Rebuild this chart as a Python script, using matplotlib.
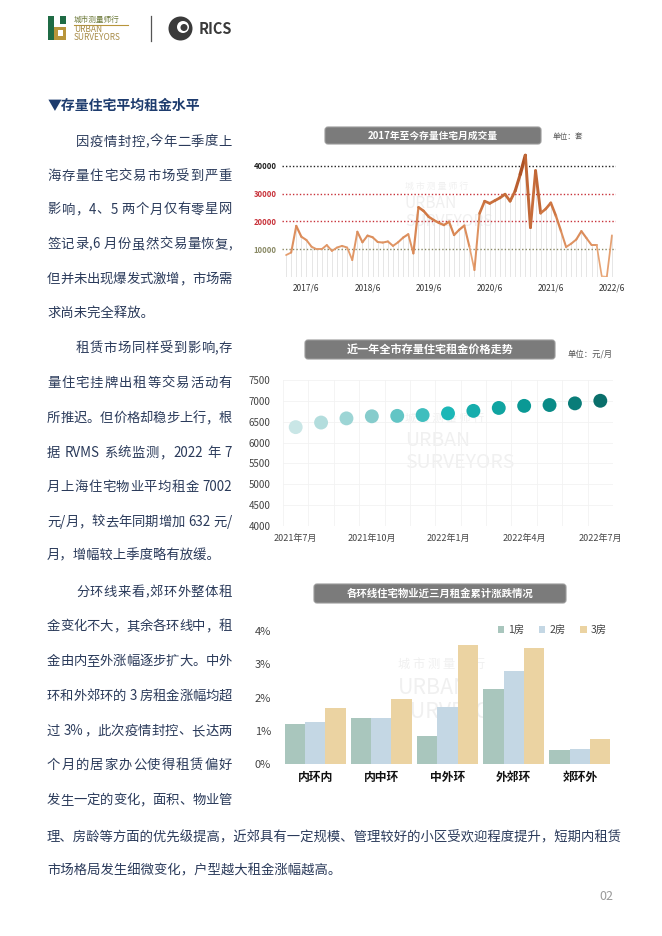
import re
import matplotlib
matplotlib.use('Agg')
import matplotlib.pyplot as plt
from matplotlib.patches import FancyBboxPatch, Rectangle, Circle
from matplotlib.collections import LineCollection
from matplotlib.colors import LinearSegmentedColormap
import numpy as np

plt.rcParams['font.family'] = ['Noto Sans CJK SC', 'DejaVu Sans']

# ---- data ----
# monthly second-hand home sales (套), 2017/2 .. 2022/6
sales = [7900, 8800, 18400, 14500, 13300, 10900, 10000, 10000, 11500, 9400,
         10600, 11200, 10600, 6100, 16300, 12500, 14900, 14300, 12600, 12400,
         12800, 11200, 12500, 14200, 15400, 8500, 25100, 23800, 21700, 20500,
         19500, 18700, 19900, 15100, 17000, 18500, 11000, 2500, 22900, 27300,
         26500, 27500, 28500, 29800, 27300, 31000, 37000, 43800, 17800, 38300,
         23000, 24500, 26700, 22000, 16500, 10800, 12000, 13500, 16500, 14000,
         11500, 11500, 300, 100, 15000]
sales_tick_pos = [4, 16, 28, 40, 52, 64]
sales_tick_lab = ['2017/6', '2018/6', '2019/6', '2020/6', '2021/6', '2022/6']

rent_months = ['2021年7月', '2021年8月', '2021年9月', '2021年10月', '2021年11月',
               '2021年12月', '2022年1月', '2022年2月', '2022年3月', '2022年4月',
               '2022年5月', '2022年6月', '2022年7月']
rent = [6370, 6480, 6580, 6630, 6640, 6660, 6700, 6760, 6830, 6880, 6900, 6940, 7002]

rings = ['内环内', '内中环', '中外环', '外郊环', '郊环外']
room1 = [1.21, 1.40, 0.85, 2.24, 0.43]
room2 = [1.28, 1.40, 1.71, 2.80, 0.45]
room3 = [1.70, 1.96, 3.57, 3.49, 0.77]

W, H = 662, 936
fig = plt.figure(figsize=(W / 100, H / 100), dpi=100)
pg = fig.add_axes([0, 0, 1, 1], zorder=0)
pg.set_xlim(0, W)
pg.set_ylim(H, 0)
pg.axis('off')


def box(l, t, r, b):
    a = fig.add_axes([l / W, 1 - b / H, (r - l) / W, (b - t) / H], zorder=1)
    a.set_facecolor('none')
    for s in a.spines.values():
        s.set_visible(False)
    return a


def title_box(l, t, r, b, txt, fs):
    pg.add_patch(FancyBboxPatch((l, t), r - l, b - t, boxstyle='round,pad=0,rounding_size=3',
                                fc='#7b7b7b', ec='#9a9a9a', lw=0.8))
    pg.text((l + r) / 2, (t + b) / 2, txt, color='white', fontsize=fs, fontweight='bold',
            ha='center', va='center')


def watermark(x, y, s):
    pg.text(x, y, '城 市 测 量 师 行', fontsize=8 * s, color='#f0f0f0', va='center')
    pg.text(x, y + 22 * s, 'URBAN', fontsize=14 * s, color='#f0f0f0', va='center')
    pg.text(x, y + 44 * s, 'SURVEYORS', fontsize=14 * s, color='#f0f0f0', va='center')


# ---- header logos ----
pg.add_patch(Rectangle((48, 16), 6, 24, fc='#1f6b45'))
pg.add_patch(Rectangle((54, 27), 12, 13, fc='#b8953b'))
pg.add_patch(Rectangle((58, 30), 5, 6, fc='white'))
pg.add_patch(Rectangle((60, 16), 6, 8, fc='#1f6b45'))
pg.text(74, 20, '城市测量师行', fontsize=5.5, color='#6d7a3a', va='center')
pg.plot([74, 128], [24.5, 24.5], color='#b8953b', lw=0.8)
pg.text(74, 30, 'URBAN', fontsize=6, color='#a88c48', va='center')
pg.text(74, 37.5, 'SURVEYORS', fontsize=6, color='#a88c48', va='center')
pg.plot([151, 151], [16, 41], color='#555555', lw=0.9)
pg.add_patch(Circle((180.5, 28.5), 12, fc='#3a3a3a'))
pg.add_patch(Circle((183, 27), 6, fc='white'))
pg.add_patch(Circle((184, 27.5), 3.5, fc='#3a3a3a'))
pg.text(199, 29.5, 'RICS', fontsize=10.5, fontweight='bold', color='#3a3a3a', va='center')

pg.text(48, 106, '▼存量住宅平均租金水平', fontsize=10, fontweight='bold', color='#1e3c6e', va='center')

# ---- body text ----
txt_color = '#2a3a5a'
body = [
    (76, 141.7, '因疫情封控,今年二季度上', True),
    (47, 175.7, '海存量住宅交易市场受到严重', True),
    (47, 209.5, '影响，4、5 两个月仅有零星网', True),
    (47, 244, '签记录,6 月份虽然交易量恢复,', True),
    (47, 279, '但并未出现爆发式激增，市场需', True),
    (47, 313, '求尚未完全释放。', False),
    (76, 348, '租赁市场同样受到影响,存', True),
    (47, 383, '量住宅挂牌出租等交易活动有', True),
    (47, 418, '所推迟。但价格却稳步上行，根', True),
    (47, 453, '据 RVMS 系统监测，2022 年 7', True),
    (47, 487, '月上海住宅物业平均租金 7002', True),
    (47, 522, '元/月，较去年同期增加 632 元/', True),
    (47, 555, '月，增幅较上季度略有放缓。', False),
    (76, 591.7, '分环线来看,郊环外整体租', True),
    (47, 626, '金变化不大，其余各环线中，租', True),
    (47, 660.7, '金由内至外涨幅逐步扩大。中外', True),
    (47, 696, '环和外郊环的 3 房租金涨幅均超', True),
    (47, 730.7, '过 3%，此次疫情封控、长达两', True),
    (47, 765, '个月的居家办公使得租赁偏好', True),
    (47, 800, '发生一定的变化，面积、物业管', True),
    (47, 837.3, '理、房龄等方面的优先级提高，近郊具有一定规模、管理较好的小区受欢迎程度提升，短期内租赁', False),
    (47, 870, '市场格局发生细微变化，户型越大租金涨幅越高。', False),
]
fs_body = 9.6
space_w = 3.5
renderer = fig.canvas.get_renderer()
for x0, y, s, just in body:
    if not just:
        pg.text(x0, y, s, fontsize=fs_body, color=txt_color, va='center')
        continue
    toks = re.findall(r' |[A-Za-z0-9%/]+|\S', s)
    words = [t for t in toks if t != ' ']
    n_sp = len(toks) - len(words)
    objs = [pg.text(0, y, t, fontsize=fs_body, color=txt_color, va='center') for t in words]
    widths = [o.get_window_extent(renderer).width for o in objs]
    gap = (232 - x0 - sum(widths) - n_sp * space_w) / (len(words) - 1)
    x = x0
    i = 0
    for t in toks:
        if t == ' ':
            x += space_w
            continue
        objs[i].set_x(x)
        x += widths[i] + gap
        i += 1

pg.text(606, 897, '02', fontsize=9, color='#9a9a9a', ha='center', va='center')

# ---- chart 1: monthly sales ----
title_box(325, 127, 541, 144, '2017年至今存量住宅月成交量', 7)
pg.text(553, 137, '单位：套', fontsize=5.5, color='#555555', va='center')
watermark(405, 186, 0.8)

ax1 = box(282, 152, 616, 277)
xs = np.arange(len(sales))
vals = np.array(sales, dtype=float)
ax1.vlines(xs, 0, vals, color='#e2e2e2', lw=0.6, zorder=1)
grid_cols = {10000: '#8a8a66', 20000: '#c8323a', 30000: '#c8323a', 40000: '#222222'}
for v, c in grid_cols.items():
    ax1.axhline(v, color=c, lw=1.0, ls=(0, (1, 1.5)), zorder=2)
pts = np.column_stack([xs, vals]).reshape(-1, 1, 2)
segs = np.concatenate([pts[:-1], pts[1:]], axis=1)
mid = (vals[:-1] + vals[1:]) / 2
cmap1 = LinearSegmentedColormap.from_list('c1', ['#eeb286', '#d27a45', '#a4461c'])
lc = LineCollection(segs, colors=cmap1(mid / 45000), linewidths=1.0 + 1.6 * mid / 45000,
                    capstyle='round', joinstyle='round', zorder=3)
ax1.add_collection(lc)
ax1.set_xlim(-0.8, 64.8)
ax1.set_ylim(0, 45000)
ax1.set_yticks(list(grid_cols))
ax1.set_yticklabels([str(v) for v in grid_cols], fontsize=5.5, fontweight='bold')
for lab, c in zip(ax1.get_yticklabels(), grid_cols.values()):
    lab.set_color(c)
ax1.set_xticks(sales_tick_pos)
ax1.set_xticklabels(sales_tick_lab, fontsize=6, color='#333333')
ax1.tick_params(length=0, pad=4)
ax1.tick_params(axis='x', pad=5)

# ---- chart 2: rent trend ----
title_box(305, 340, 555, 359, '近一年全市存量住宅租金价格走势', 8)
pg.text(568, 354, '单位：元/月', fontsize=6, color='#555555', va='center')
watermark(405, 418, 1.0)

ax2 = box(283, 380, 613, 526)
cmap2 = LinearSegmentedColormap.from_list('c2', ['#c9e6e6', '#86cccc', '#1cb7b7', '#0a9a96', '#0a6f6b'])
xr = np.arange(len(rent))
ax2.scatter(xr, rent, s=100, c=cmap2(np.linspace(0, 1, len(rent))), edgecolors='none', zorder=3)
ax2.set_xlim(-0.5, len(rent) - 0.5)
ax2.set_ylim(4000, 7500)
ax2.set_yticks(range(4000, 7501, 500))
ax2.set_xticks(xr[::3])
ax2.set_xticklabels(rent_months[::3], fontsize=6.5, color='#444444')
ax2.set_xticks(np.arange(-0.5, len(rent), 1), minor=True)
ax2.tick_params(axis='y', labelsize=7, labelcolor='#444444', length=0, pad=9)
ax2.tick_params(axis='x', length=0, pad=6)
ax2.tick_params(which='minor', length=0)
ax2.grid(axis='y', color='#f2f2f2', lw=0.6)
ax2.grid(axis='x', which='minor', color='#f2f2f2', lw=0.6)

# ---- chart 3: rent change by ring ----
title_box(314, 584, 566, 603, '各环线住宅物业近三月租金累计涨跌情况', 7.5)
watermark(398, 664, 1.1)

ax3 = box(282, 615.7, 613, 764.3)
xb = np.arange(len(rings))
bw = 0.307
ax3.bar(xb - bw, room1, bw, color='#a9c6bd', label='1房')
ax3.bar(xb, room2, bw, color='#c4d7e4', label='2房')
ax3.bar(xb + bw, room3, bw, color='#ebd3a2', label='3房')
ax3.set_xlim(-0.5, len(rings) - 0.5)
ax3.set_ylim(0, 4.45)
ax3.set_yticks([0, 1, 2, 3, 4])
ax3.set_yticklabels(['0%', '1%', '2%', '3%', '4%'], fontsize=8, color='#444444')
ax3.set_xticks(xb)
ax3.set_xticklabels(rings, fontsize=8.5, fontweight='bold', color='#111111')
ax3.tick_params(length=0)
ax3.tick_params(axis='y', pad=8)
ax3.tick_params(axis='x', pad=5)
ax3.legend(loc='upper right', bbox_to_anchor=(1.01, 1.0), ncol=3, frameon=False,
           fontsize=7.5, labelcolor='#444444', handlelength=0.6, handleheight=0.6,
           handletextpad=0.4, columnspacing=1.4)

fig.savefig('out.png', dpi=100)
